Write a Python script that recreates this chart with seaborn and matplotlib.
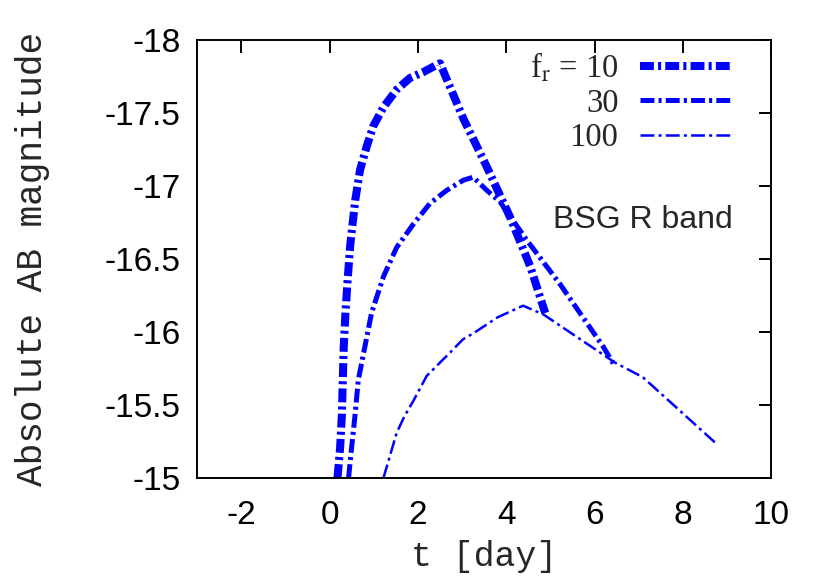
import numpy as np
import pandas as pd
import matplotlib
matplotlib.use("Agg")
import matplotlib.pyplot as plt
import seaborn as sns

# light curves: t [day], absolute AB magnitude
t_fr10 = [0.18, 0.24, 0.28, 0.3, 0.32, 0.36, 0.41, 0.47, 0.58, 0.69, 0.84, 0.99, 1.22, 1.52, 1.82,
          2.12, 2.43, 2.5, 3.03, 3.56, 4.08, 4.54, 4.88]
m_fr10 = [-15.0, -15.21, -15.44, -15.67, -15.89, -16.13, -16.36, -16.6, -16.9, -17.11, -17.27, -17.41,
          -17.54, -17.66, -17.74, -17.78, -17.83, -17.84, -17.46, -17.13, -16.79, -16.45, -16.13]

t_fr30 = [0.43, 0.5, 0.58, 0.65, 0.8, 0.95, 1.22, 1.52, 1.9, 2.27, 2.65, 3.03, 3.25, 3.56, 3.86,
          4.46, 5.21, 6.19, 6.43]
m_fr30 = [-15.0, -15.21, -15.44, -15.67, -15.9, -16.13, -16.38, -16.58, -16.74, -16.88, -16.97, -17.04,
          -17.06, -16.97, -16.89, -16.63, -16.33, -15.9, -15.78]

t_fr100 = [1.22, 1.52, 1.69, 1.9, 2.2, 2.73, 3.02, 3.25, 3.8, 4.38, 4.84, 6.46, 7.09, 8.77]
m_fr100 = [-15.0, -15.31, -15.42, -15.53, -15.7, -15.86, -15.95, -15.99, -16.1, -16.18, -16.12, -15.79,
           -15.69, -15.23]

labels = [r"f$_{\mathrm{r}}$ = 10", "30", "100"]
widths = [5.8, 3.6, 1.8]

sns.set_style("white")
plt.rcParams["lines.scale_dashes"] = False
plt.rcParams["mathtext.fontset"] = "stix"

fig = plt.figure(figsize=(8.3, 5.81), dpi=100)
ax = fig.add_axes([0.2373, 0.1773, 0.6922, 0.7539])

series = [(t_fr10, m_fr10), (t_fr30, m_fr30), (t_fr100, m_fr100)]
dash = (0, (10, 3, 2.2, 3))
for (tt, mm), lw in zip(series, widths):
    df = pd.DataFrame({"t": tt, "mag": mm})
    sns.lineplot(data=df, x="t", y="mag", ax=ax, color="#0000ff", lw=lw,
                 linestyle=dash, sort=False, estimator=None)

ax.set_xlim(-3, 10)
ax.set_ylim(-15, -18)
ax.set_xticks(np.arange(-2, 11, 2))
ax.set_yticks([-18, -17.5, -17, -16.5, -16, -15.5, -15])
ax.set_yticklabels(["-18", "-17.5", "-17", "-16.5", "-16", "-15.5", "-15"])
ax.set_xticklabels([str(v) for v in range(-2, 11, 2)])

for sp in ax.spines.values():
    sp.set_color("black")
    sp.set_linewidth(1.4)
ax.tick_params(direction="in", length=9, width=1.4, top=True, right=True,
               labelsize=24, pad=12, colors="black")
for lab in ax.get_xticklabels() + ax.get_yticklabels():
    lab.set_family("Liberation Sans")
ax.tick_params(axis="x", pad=16)

ax.set_xlabel("t [day]", family="Liberation Mono", fontsize=25, va="center")
ax.set_ylabel("Absolute AB magnitude", family="Liberation Mono", fontsize=26, va="center")
ax.xaxis.set_label_coords(0.5, -0.18)
ax.yaxis.set_label_coords(-0.2855, 0.5)

ax.text(9.13, -16.77, "BSG R band", family="Liberation Sans", fontsize=23,
        ha="right", va="center")

leg = ax.legend(ax.lines[:3], labels, loc="upper right", bbox_to_anchor=(0.9295, 0.975),
                frameon=False, markerfirst=False, handlelength=2.8, handletextpad=0.65,
                labelspacing=0.12, borderpad=0, borderaxespad=0,
                prop={"family": "Liberation Serif", "size": 23.5})

fig.savefig("out.png", dpi=100)
